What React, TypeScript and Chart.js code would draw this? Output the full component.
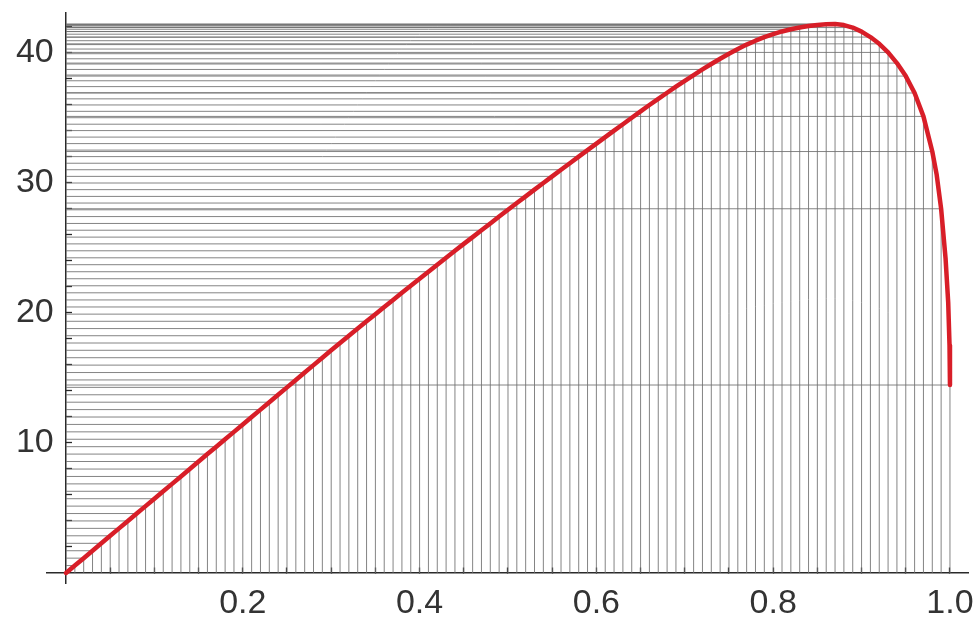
import React, { useEffect, useRef } from "react";
import { Chart, registerables } from "chart.js";

Chart.register(...registerables);

// sample positions (x) and curve heights (y)
const sampleX = [
  0, 0.01, 0.02, 0.03, 0.04, 0.05, 0.06, 0.07, 0.08, 0.09,
  0.1, 0.11, 0.12, 0.13, 0.14, 0.15, 0.16, 0.17, 0.18, 0.19,
  0.2, 0.21, 0.22, 0.23, 0.24, 0.25, 0.26, 0.27, 0.28, 0.29,
  0.3, 0.31, 0.32, 0.33, 0.34, 0.35, 0.36, 0.37, 0.38, 0.39,
  0.4, 0.41, 0.42, 0.43, 0.44, 0.45, 0.46, 0.47, 0.48, 0.49,
  0.5, 0.51, 0.52, 0.53, 0.54, 0.55, 0.56, 0.57, 0.58, 0.59,
  0.6, 0.61, 0.62, 0.63, 0.64, 0.65, 0.66, 0.67, 0.68, 0.69,
  0.7, 0.71, 0.72, 0.73, 0.74, 0.75, 0.76, 0.77, 0.78, 0.79,
  0.8, 0.81, 0.82, 0.83, 0.84, 0.85, 0.86, 0.87, 0.88, 0.89,
  0.9, 0.91, 0.92, 0.93, 0.94, 0.95, 0.96, 0.97, 0.98, 0.99,
  1.0,
];
const sampleY = [
  0, 0.57, 1.14, 1.71, 2.28, 2.86, 3.43, 4.0, 4.57, 5.14,
  5.71, 6.28, 6.85, 7.42, 7.99, 8.57, 9.14, 9.71, 10.28, 10.85,
  11.42, 11.99, 12.56, 13.13, 13.7, 14.27, 14.84, 15.41, 15.98, 16.55,
  17.12, 17.68, 18.24, 18.79, 19.35, 19.9, 20.45, 20.99, 21.54, 22.08,
  22.62, 23.16, 23.7, 24.23, 24.77, 25.3, 25.82, 26.35, 26.87, 27.4,
  27.92, 28.44, 28.95, 29.47, 29.98, 30.49, 31.0, 31.5, 32.01, 32.51,
  33.01, 33.51, 34.01, 34.5, 35.0, 35.49, 35.98, 36.45, 36.92, 37.39,
  37.84, 38.28, 38.71, 39.13, 39.53, 39.92, 40.28, 40.62, 40.92, 41.19,
  41.42, 41.63, 41.8, 41.94, 42.05, 42.13, 42.18, 42.2, 42.12, 41.93,
  41.62, 41.2, 40.68, 40.02, 39.2, 38.2, 36.9, 35.1, 32.4, 28.0,
  14.45,
];
// extra points of the red curve near its steep end
const tailX = [0.985, 0.995, 0.998, 0.9995];
const tailY = [30.6, 24.2, 20.8, 17.5];

const xTickValues = [
  0.05, 0.1, 0.15, 0.2, 0.25, 0.3, 0.35, 0.4, 0.45, 0.5,
  0.55, 0.6, 0.65, 0.7, 0.75, 0.8, 0.85, 0.9, 0.95, 1.0,
];
const xLabelValues = [0.2, 0.4, 0.6, 0.8, 1.0];
const xLabels = ["0.2", "0.4", "0.6", "0.8", "1.0"];
const yTickValues = [2, 4, 6, 8, 10, 12, 14, 16, 18, 20, 22, 24, 26, 28, 30, 32, 34, 36, 38, 40, 42];
const yLabelValues = [10, 20, 30, 40];
const yLabels = ["10", "20", "30", "40"];

const X_MIN = -0.0215;
const X_MAX = 1.0204;
const Y_MIN = -0.77;
const Y_MAX = 43.05;

const FONT = "'Liberation Sans', Arial, sans-serif";
const AXIS_COLOR = "#2a2a2a";
const GRID_LINE = "rgba(110,110,110,0.85)";
const CURVE = "#d81e28";

function labelFor(value: number, values: number[], labels: string[], suffix: string) {
  for (let i = 0; i < values.length; i++) {
    if (Math.abs(values[i] - value) < 1e-6) return labels[i] + suffix;
  }
  return "";
}

export default function App() {
  const canvasRef = useRef<HTMLCanvasElement | null>(null);

  useEffect(() => {
    const canvas = canvasRef.current;
    if (!canvas) return;

    const verticals: any[] = [];
    const horizontals: any[] = [];
    for (let i = 0; i < sampleX.length; i++) {
      const sx = sampleX[i];
      const sy = sampleY[i];
      verticals.push({ x: sx, y: 0 }, { x: sx, y: sy }, { x: sx, y: null });
      horizontals.push({ x: 0, y: sy }, { x: sx, y: sy }, { x: sx, y: null });
    }
    const curve: any[] = sampleX.map((x, i) => ({ x, y: sampleY[i] }));
    tailX.forEach((x, i) => curve.push({ x, y: tailY[i] }));
    curve.sort((a, b) => a.x - b.x);

    const zeroPad = (scale: any) => {
      scale.paddingLeft = 0;
      scale.paddingRight = 0;
      scale.paddingTop = 0;
      scale.paddingBottom = 0;
    };

    const chart = new Chart(canvas, {
      type: "line",
      data: {
        datasets: [
          {
            data: curve,
            borderColor: CURVE,
            borderWidth: 4.5,
            pointRadius: 0,
            tension: 0,
            borderJoinStyle: "round",
            borderCapStyle: "round",
          },
          {
            data: verticals,
            borderColor: GRID_LINE,
            borderWidth: 1,
            pointRadius: 0,
            spanGaps: false,
            borderCapStyle: "butt",
          },
          {
            data: horizontals,
            borderColor: GRID_LINE,
            borderWidth: 1,
            pointRadius: 0,
            spanGaps: false,
            borderCapStyle: "butt",
          },
        ],
      },
      options: {
        animation: false,
        responsive: false,
        devicePixelRatio: 1,
        layout: { padding: { left: 47, right: 6, top: 13, bottom: 34 } },
        plugins: { legend: { display: false }, tooltip: { enabled: false } },
        elements: { line: { fill: false } },
        scales: {
          x: {
            type: "linear",
            min: X_MIN,
            max: X_MAX,
            position: { y: 0 } as any,
            z: 1,
            afterBuildTicks: (scale: any) => {
              scale.ticks = xTickValues.map((v) => ({ value: v }));
            },
            afterFit: zeroPad,
            border: { display: true, color: AXIS_COLOR, width: 1.5 },
            grid: {
              display: true,
              drawOnChartArea: false,
              drawTicks: true,
              tickLength: -6,
              tickColor: AXIS_COLOR,
              tickWidth: 1.3,
            },
            ticks: {
              autoSkip: false,
              maxRotation: 0,
              minRotation: 0,
              padding: 16,
              color: "#333",
              font: { family: FONT, size: 34 },
              callback: (value: any) => labelFor(Number(value), xLabelValues, xLabels, ""),
            },
          },
          y: {
            type: "linear",
            min: Y_MIN,
            max: Y_MAX,
            position: { x: 0 } as any,
            z: 1,
            afterBuildTicks: (scale: any) => {
              scale.ticks = yTickValues.map((v) => ({ value: v }));
            },
            afterFit: zeroPad,
            border: { display: true, color: AXIS_COLOR, width: 1.5 },
            grid: {
              display: true,
              drawOnChartArea: false,
              drawTicks: true,
              tickLength: -7,
              tickColor: AXIS_COLOR,
              tickWidth: 1.3,
            },
            ticks: {
              autoSkip: false,
              padding: 0,
              color: "#333",
              font: { family: FONT, size: 34 },
              callback: (value: any) => labelFor(Number(value), yLabelValues, yLabels, " \u200A"),
            },
          },
        },
      } as any,
    });

    return () => {
      chart.destroy();
    };
  }, []);

  return (
    <div style={{ position: "absolute", left: 0, top: 0, width: 974, height: 617, background: "#fff" }}>
      <canvas ref={canvasRef} width={974} height={617} style={{ width: 974, height: 617, display: "block" }} />
    </div>
  );
}
